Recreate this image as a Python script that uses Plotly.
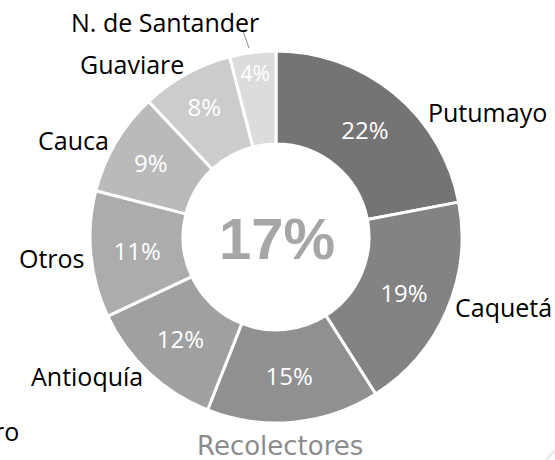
import plotly.graph_objects as go

labels = ["Putumayo", "Caquetá", "Nariño", "Antioquía", "Otros", "Cauca", "Guaviare", "N. de Santander"]
values = [22, 19, 15, 12, 11, 9, 8, 4]
colors = ["#747474", "#838383", "#909090", "#a0a0a0", "#acacac", "#bababa", "#cccccc", "#dcdcdc"]
center_text = "17%"
title_text = "Recolectores"

W, H = 555, 460

fig = go.Figure(go.Pie(
    labels=labels,
    values=values,
    sort=False,
    direction="clockwise",
    rotation=0,
    hole=0.5,
    marker=dict(colors=colors, line=dict(color="white", width=3)),
    texttemplate="%{value}%",
    textposition="inside",
    insidetextorientation="horizontal",
    textfont=dict(family="Open Sans", size=24, color="white"),
    domain=dict(x=[90/W, 462/W], y=[1-423/H, 1-51/H]),
    showlegend=False,
    hoverinfo="label+value",
))

def px(x, y):
    return x / W, 1 - y / H

# outside labels (pixel positions of text centers)
label_pos = {
    "N. de Santander": (165, 22),
    "Guaviare": (132, 64),
    "Cauca": (73, 140),
    "Otros": (52, 258),
    "Antioquía": (87, 376),
    "Putumayo": (487, 112),
    "Caquetá": (503, 307),
}
lab_font = dict(family="Open Sans", size=25, color="black")
ann = []
for name, (x, y) in label_pos.items():
    ax, ay = px(x, y)
    ann.append(dict(x=ax, y=ay, xref="paper", yref="paper", text=name, showarrow=False,
                    font=lab_font, xanchor="center", yanchor="middle"))
# partially visible label for the 15% slice
ax, ay = px(21, 431)
ann.append(dict(x=ax, y=ay, xref="paper", yref="paper", text="ro", showarrow=False,
                font=lab_font, xanchor="right", yanchor="middle"))
# center value
ax, ay = px(277, 238)
ann.append(dict(x=ax, y=ay, xref="paper", yref="paper", text="<b>" + center_text + "</b>", showarrow=False,
                font=dict(family="Liberation Sans", size=58, color="#a6a6a6"), xanchor="center", yanchor="middle"))
# bottom title
ax, ay = px(280, 446)
ann.append(dict(x=ax, y=ay, xref="paper", yref="paper", text=title_text, showarrow=False,
                font=dict(family="DejaVu Sans", size=26, color="#8c8c8c"), xanchor="center", yanchor="middle"))

x0, y0 = px(243, 31)
x1, y1 = px(249, 48)
sx0, sy0 = px(546, 460)
sx1, sy1 = px(555, 450)
shapes = [
    dict(type="line", xref="paper", yref="paper", x0=x0, y0=y0, x1=x1, y1=y1,
         line=dict(color="#8c8c8c", width=1)),
    dict(type="line", xref="paper", yref="paper", x0=sx0, y0=sy0, x1=sx1, y1=sy1,
         line=dict(color="#ececec", width=3)),
]

fig.update_layout(
    width=W, height=H,
    margin=dict(l=0, r=0, t=0, b=0),
    paper_bgcolor="white",
    plot_bgcolor="white",
    annotations=ann,
    shapes=shapes,
)

fig.write_html("out.html", config={"displayModeBar": False},
               post_script="document.body.style.margin='0';document.body.style.overflow='hidden';")
